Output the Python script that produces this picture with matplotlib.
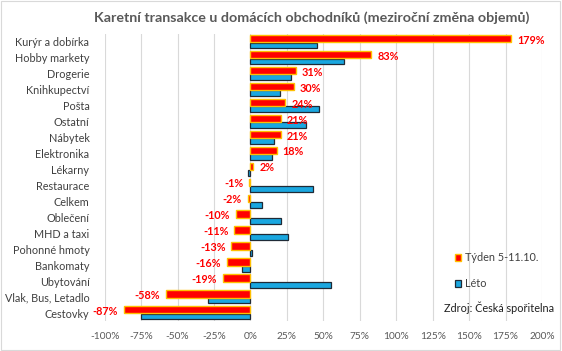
import matplotlib
matplotlib.use("Agg")
import matplotlib.pyplot as plt
from matplotlib.patches import Patch, Rectangle
import numpy as np

plt.rcParams['font.family'] = ['Lato', 'DejaVu Sans']

categories = ["Kurýr a dobírka", "Hobby markety", "Drogerie", "Knihkupectví", "Pošta",
              "Ostatní", "Nábytek", "Elektronika", "Lékarny", "Restaurace", "Celkem",
              "Oblečení", "MHD a taxi", "Pohonné hmoty", "Bankomaty", "Ubytování",
              "Vlak, Bus, Letadlo", "Cestovky"]
tyden = [179, 83, 31, 30, 24, 21, 21, 18, 2, -1, -2, -10, -11, -13, -16, -19, -58, -87]
leto = [46, 64, 28, 20, 47, 38, 16, 15, -2, 43, 8, 21, 26, 1, -6, 55, -29, -75]
xticks = list(range(-100, 201, 25))

title = "Karetní transakce u domácích obchodníků (meziroční změna objemů)"
source = "Zdroj: Česká spořitelna"

fig = plt.figure(figsize=(5.62, 3.51), dpi=100)
ax = fig.add_axes([0.1863, 0.0855, 0.778, 0.8177])

y = np.arange(len(categories))
ax.barh(y - 0.2, tyden, height=0.46, color="#FF0000", edgecolor="#FFC000", linewidth=1.0, zorder=3,
        label="Týden 5-11.10.")
ax.barh(y + 0.22, leto, height=0.36, color="#1AA7E0", edgecolor="#1F2A36", linewidth=0.9, zorder=2,
        label="Léto")

for yi, v in zip(y, tyden):
    if v >= 0:
        ax.text(v + 4, yi - 0.1, f"{v}%", color="#FF0000", fontsize=7.8, fontweight="bold",
                ha="left", va="center", zorder=5)
    else:
        ax.text(v - 4, yi - 0.1, f"{v}%", color="#FF0000", fontsize=7.8, fontweight="bold",
                ha="right", va="center", zorder=5)

ax.set_xlim(-100, 200)
ax.set_ylim(len(categories) - 0.5, -0.5)
ax.set_xticks(xticks)
ax.set_xticklabels([f"{t}%" for t in xticks], fontsize=7.3, color="#595959")
ax.set_yticks(y)
ax.set_yticklabels(categories, fontsize=7.8, color="#404040")
ax.tick_params(axis="both", length=0)
ax.tick_params(axis="y", pad=11)
ax.tick_params(axis="x", pad=8)
ax.grid(axis="x", color="#D9D9D9", linewidth=0.8, zorder=0)
for s in ax.spines.values():
    s.set_visible(False)

fig.text(0.554, 0.951, title, ha="center", va="center", fontsize=10.3, fontweight="bold", color="#595959")

handles = [Patch(facecolor="#FF0000", edgecolor="#FFC000", linewidth=1.0),
           Patch(facecolor="#1AA7E0", edgecolor="#1F2A36", linewidth=0.9)]
leg = fig.legend(handles, ["Týden 5-11.10.", "Léto"], loc="upper left",
                 bbox_to_anchor=(0.792, 0.31), frameon=False, fontsize=7.8,
                 handlelength=0.6, handleheight=0.6, handletextpad=0.35, labelspacing=1.4)
for t in leg.get_texts():
    t.set_color("#404040")

fig.text(0.79, 0.122, source, ha="left", va="center", fontsize=7.8, color="#202020")

fig.patches.append(Rectangle((0.002, 0.004), 0.994, 0.992, transform=fig.transFigure,
                             fill=False, edgecolor="#D9D9D9", linewidth=0.8))

fig.savefig("out.png", dpi=100)
